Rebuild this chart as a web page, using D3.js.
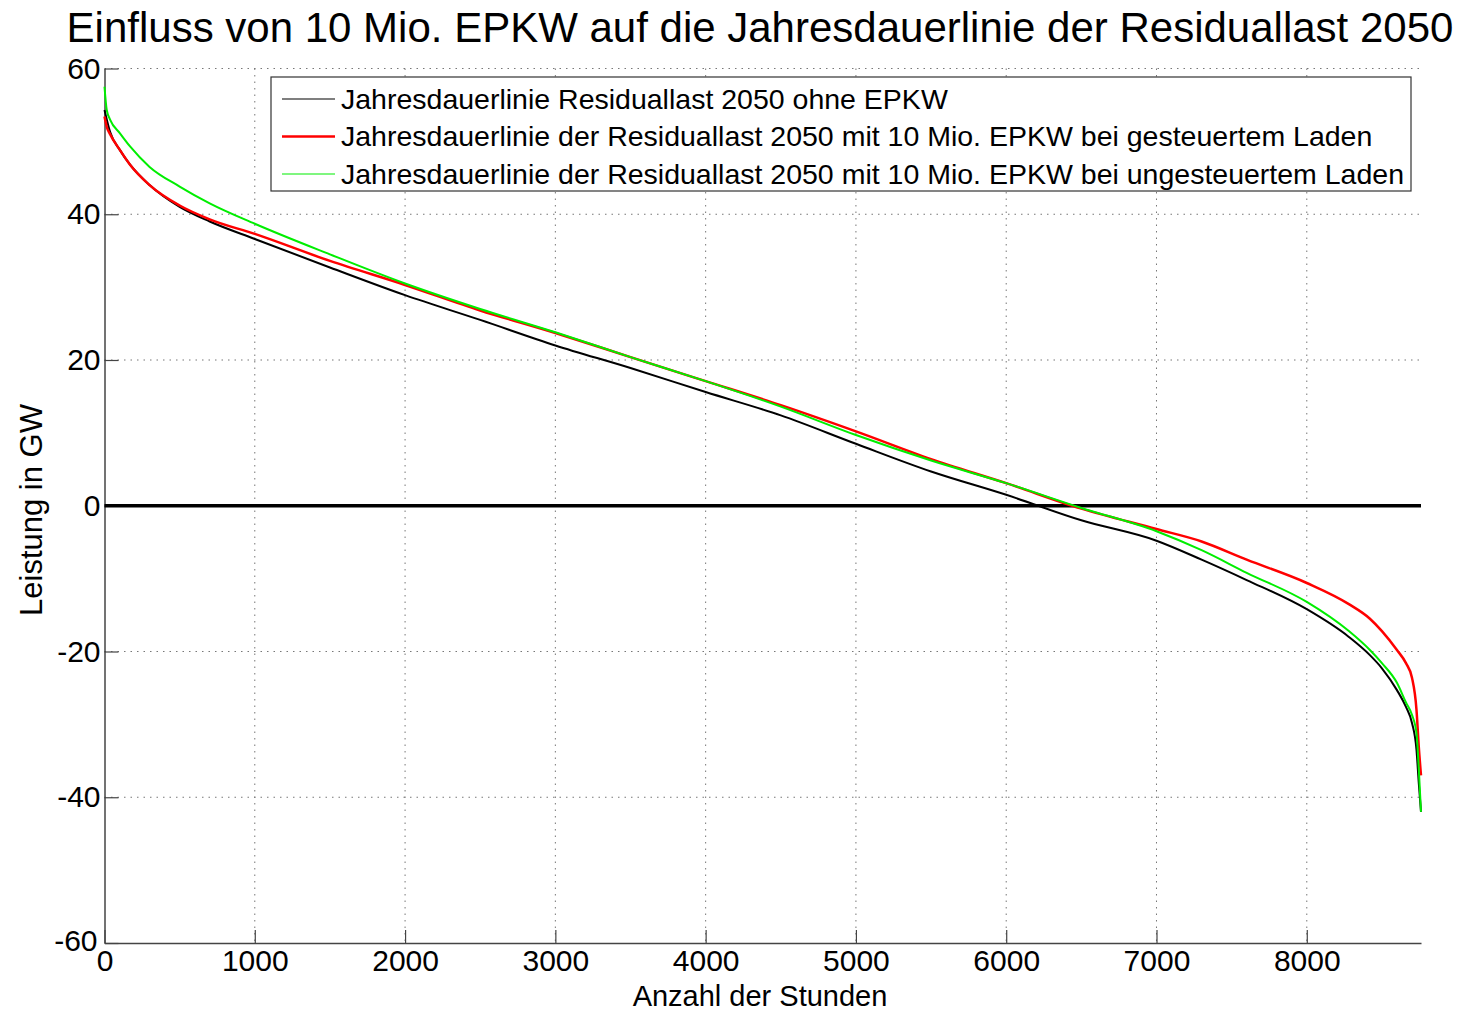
<!doctype html>
<meta charset="utf-8">
<script src="https://d3js.org/d3.v7.min.js"></script>
<body style="margin:0;background:#fff">
<style>
  text { font-family: "Liberation Sans", Arial, sans-serif; fill: #000; }
  .grid line { stroke: #777; stroke-dasharray: 1.5,5; }
</style>
<script>

// Stunden (sortierte Jahresdauerlinie)
var hours = [0, 15, 37, 103, 170, 300, 500, 700, 1000, 1500, 2000, 2500, 3000, 3500, 4000, 4500,
             5000, 5500, 6000, 6500, 7000, 7300, 7600, 8000, 8280, 8420, 8500, 8600, 8660, 8700, 8730, 8745, 8760];

// Residuallast in GW
var ohneEPKW = [54.3, 53, 51.3, 48.8, 46.8, 44.0, 41.0, 39.0, 36.6, 32.7, 28.9, 25.5, 22.0, 18.9, 15.6, 12.4,
                8.5, 4.7, 1.5, -2.0, -4.8, -7.4, -10.2, -14.2, -18.0, -20.5, -22.3, -25.3, -27.6, -29.8, -33.5, -38, -42];
var gesteuert = [53.4, 52, 51, 48.8, 46.8, 44.0, 41.2, 39.3, 37.3, 33.6, 30.3, 26.8, 23.7, 20.4, 17.1, 13.8,
                 10.2, 6.4, 3.1, -0.4, -3.2, -4.9, -7.4, -10.6, -13.5, -15.5, -17.2, -19.8, -21.6, -23.6, -28.0, -33, -37];
var ungesteuert = [57.5, 54.3, 53, 51.1, 49.3, 46.5, 43.8, 41.5, 38.7, 34.5, 30.5, 27.0, 23.8, 20.4, 17.1, 13.6,
                   9.7, 6.2, 3.1, -0.3, -3.5, -6.1, -9.2, -13.2, -17.2, -19.8, -21.6, -24.3, -27.0, -28.7, -31.2, -36, -42];

var xTicks = [0, 1000, 2000, 3000, 4000, 5000, 6000, 7000, 8000];
var yTicks = [-60, -40, -20, 0, 20, 40, 60];

var series = [
  {name: "Jahresdauerlinie Residuallast 2050 ohne EPKW", values: ohneEPKW, color: "#000", width: 2, legendWidth: 1.2},
  {name: "Jahresdauerlinie der Residuallast 2050 mit 10 Mio. EPKW bei gesteuertem Laden", values: gesteuert, color: "#ff0000", width: 2.5, legendWidth: 2.5},
  {name: "Jahresdauerlinie der Residuallast 2050 mit 10 Mio. EPKW bei ungesteuertem Laden", values: ungesteuert, color: "#00ee00", width: 2, legendWidth: 1.2}
];

var margin = {top: 68.5, right: 40, bottom: 69, left: 104.5},
    width = 1461 - margin.left - margin.right,
    height = 1012 - margin.top - margin.bottom;

var svg = d3.select("body").append("svg")
    .attr("width", 1461)
    .attr("height", 1012);

var g = svg.append("g")
    .attr("transform", "translate(" + margin.left + "," + margin.top + ")");

var x = d3.scaleLinear().domain([0, 8760]).range([0, width]);
var y = d3.scaleLinear().domain([-60, 60]).range([height, 0]);

// gridlines
var grid = g.append("g").attr("class", "grid");
grid.selectAll(".gx").data(xTicks.slice(1)).enter().append("line")
    .attr("x1", function(d) { return x(d); }).attr("x2", function(d) { return x(d); })
    .attr("y1", 0).attr("y2", height);
grid.selectAll(".gy").data(yTicks.slice(1)).enter().append("line")
    .attr("x1", 0).attr("x2", width)
    .attr("y1", function(d) { return y(d); }).attr("y2", function(d) { return y(d); });

var fmt = function(d) { return String(d); };  // Bindestrich statt Minuszeichen

// axes
var xAxis = g.append("g")
    .attr("transform", "translate(0," + height + ")")
    .call(d3.axisBottom(x).tickValues(xTicks).tickSizeInner(-13).tickSizeOuter(0).tickPadding(19).tickFormat(fmt));
var yAxis = g.append("g")
    .call(d3.axisLeft(y).tickValues(yTicks).tickSizeInner(-14).tickSizeOuter(0).tickPadding(18).tickFormat(fmt));

[xAxis, yAxis].forEach(function(a) {
  a.select(".domain").attr("stroke", "#444").attr("stroke-width", 1.5);
  a.selectAll(".tick line").attr("stroke", "#444").attr("stroke-width", 1.2);
  a.selectAll(".tick text").attr("font-size", 30).attr("font-family", "Liberation Sans, Arial, sans-serif").attr("fill", "#000");
});
yAxis.selectAll(".tick text").attr("dx", 14);
yAxis.selectAll(".tick text").filter(function(d) { return d === -60; }).attr("dx", 11).attr("dy", "0.25em");
xAxis.selectAll(".tick text").attr("dy", "0.3em");

// Nulllinie
g.append("line")
    .attr("x1", x(0)).attr("x2", x(8760))
    .attr("y1", y(0)).attr("y2", y(0))
    .attr("stroke", "#000").attr("stroke-width", 3.5);

// Kurven
var line = d3.line()
    .x(function(d, i) { return x(hours[i]); })
    .y(function(d) { return y(d); })
    .curve(d3.curveMonotoneX);

series.forEach(function(s) {
  g.append("path")
      .attr("d", line(s.values))
      .attr("fill", "none")
      .attr("stroke", s.color)
      .attr("stroke-width", s.width);
});

// Legende
var legend = svg.append("g").attr("transform", "translate(271,77)");
legend.append("rect")
    .attr("width", 1140).attr("height", 114)
    .attr("fill", "#fff").attr("stroke", "#333").attr("stroke-width", 1.2);
series.forEach(function(s, i) {
  var ly = 22 + i * 37.5;
  legend.append("line")
      .attr("x1", 11).attr("x2", 64)
      .attr("y1", ly).attr("y2", ly)
      .attr("stroke", s.color).attr("stroke-width", s.legendWidth);
  legend.append("text")
      .attr("x", 70).attr("y", ly)
      .attr("dy", "0.35em")
      .attr("font-size", 28.5)
      .text(s.name);
});

// Titel und Achsenbeschriftungen
svg.append("text")
    .attr("x", 760).attr("y", 42)
    .attr("text-anchor", "middle")
    .attr("font-size", 42)
    .text("Einfluss von 10 Mio. EPKW auf die Jahresdauerlinie der Residuallast 2050");

svg.append("text")
    .attr("x", 760).attr("y", 1006)
    .attr("text-anchor", "middle")
    .attr("font-size", 29)
    .text("Anzahl der Stunden");

svg.append("text")
    .attr("transform", "translate(42,510) rotate(-90)")
    .attr("text-anchor", "middle")
    .attr("font-size", 31)
    .text("Leistung in GW");

</script>
</body>
